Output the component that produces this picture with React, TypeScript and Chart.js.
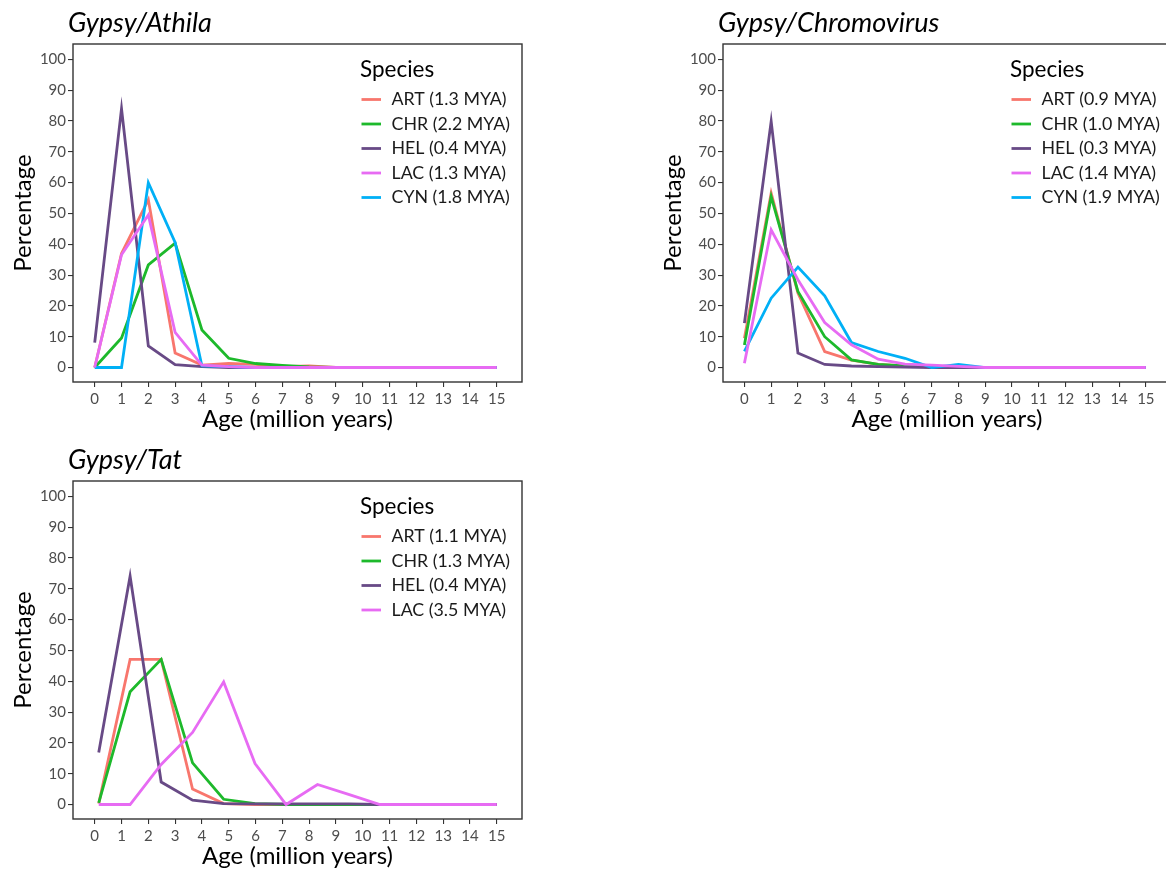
import React, { useEffect, useRef } from 'react';
import { Chart, registerables } from 'chart.js';

Chart.register(...registerables);

// ---------- Data ----------
const AGES = [0, 1, 2, 3, 4, 5, 6, 7, 8, 9, 10, 11, 12, 13, 14, 15];
const TAT_AGES = [0.15, 1.32, 2.48, 3.65, 4.81, 5.98, 7.14, 8.31, 9.47, 10.64, 11.8, 12.97, 14.13, 15];

const SPECIES_COLORS = ['#F8766D', '#1DB92B', '#684A86', '#E76BF3', '#00B0F6'];
// drawing priority (lower = on top)
const SPECIES_Z = [4, 3, 2, 0, 1];

const ATHILA_TITLE = 'Gypsy/Athila';
const ATHILA_LABELS = ['ART (1.3 MYA)', 'CHR (2.2 MYA)', 'HEL (0.4 MYA)', 'LAC (1.3 MYA)', 'CYN (1.8 MYA)'];
const ATHILA_ART = [0, 37, 54.5, 4.7, 0.8, 1.3, 1, 0.3, 0.5, 0, 0, 0, 0, 0, 0, 0];
const ATHILA_CHR = [0, 9.6, 33.3, 40.4, 12.2, 3, 1.3, 0.7, 0.2, 0, 0, 0, 0, 0, 0, 0];
const ATHILA_HEL = [8.1, 84, 7, 0.9, 0.3, 0, 0, 0, 0, 0, 0, 0, 0, 0, 0, 0];
const ATHILA_LAC = [0, 36.6, 49.5, 11.4, 0.8, 0.3, 0, 0, 0, 0, 0, 0, 0, 0, 0, 0];
const ATHILA_CYN = [0, 0, 60, 40.6, 0.5, 0.3, 0, 0, 0, 0, 0, 0, 0, 0, 0, 0];

const CHROMO_TITLE = 'Gypsy/Chromovirus';
const CHROMO_LABELS = ['ART (0.9 MYA)', 'CHR (1.0 MYA)', 'HEL (0.3 MYA)', 'LAC (1.4 MYA)', 'CYN (1.9 MYA)'];
const CHROMO_ART = [9.5, 56.6, 24.2, 5.2, 2.4, 1, 0.5, 0.2, 0, 0, 0, 0, 0, 0, 0, 0];
const CHROMO_CHR = [7.3, 55.5, 24.7, 10, 2.5, 1, 0.5, 0.2, 0, 0, 0, 0, 0, 0, 0, 0];
const CHROMO_HEL = [14.4, 79.9, 4.7, 1, 0.5, 0.3, 0.1, 0, 0, 0, 0, 0, 0, 0, 0, 0];
const CHROMO_LAC = [1.4, 44.7, 28.5, 14.6, 7.4, 2.7, 1.1, 0.8, 0.4, 0, 0, 0, 0, 0, 0, 0];
const CHROMO_CYN = [5.2, 22.5, 32.6, 23.3, 8.1, 5.2, 3, 0, 1, 0, 0, 0, 0, 0, 0, 0];

const TAT_TITLE = 'Gypsy/Tat';
const TAT_LABELS = ['ART (1.1 MYA)', 'CHR (1.3 MYA)', 'HEL (0.4 MYA)', 'LAC (3.5 MYA)'];
const TAT_ART = [0.3, 47.1, 47.1, 5, 0.3, 0, 0, 0, 0, 0, 0, 0, 0, 0];
const TAT_CHR = [0.5, 36.6, 47.1, 13.5, 1.7, 0.3, 0, 0, 0, 0, 0, 0, 0, 0];
const TAT_HEL = [16.9, 74.1, 7.3, 1.4, 0.3, 0.2, 0.2, 0.2, 0.2, 0, 0, 0, 0, 0];
const TAT_LAC = [0, 0, 13, 23.4, 39.8, 13.3, 0, 6.5, 3.3, 0, 0, 0, 0, 0];

const X_AXIS_TITLE = 'Age (million years)';
const Y_AXIS_TITLE = 'Percentage';
const LEGEND_TITLE = 'Species';

const FONT = 'Lato';

type PanelProps = {
  left: number;
  top: number;
  width: number;
  height: number;
  padRight: number;
  title: string;
  labels: string[];
  series: number[][];
  xs: number[];
  xMin: number;
  xMax: number;
};

function Panel(props: PanelProps) {
  const ref = useRef<HTMLCanvasElement | null>(null);

  useEffect(() => {
    const canvas = ref.current;
    if (!canvas) return;
    const { title, labels, series, xs, xMin, xMax, padRight } = props;

    const decor = {
      id: 'panelDecor',
      afterDraw(chart: any) {
        const ctx = chart.ctx;
        const a = chart.chartArea;
        ctx.save();
        // panel border
        ctx.strokeStyle = '#333333';
        ctx.lineWidth = 1.4;
        ctx.strokeRect(a.left, a.top, a.right - a.left, a.bottom - a.top);
        // panel title
        ctx.fillStyle = '#000';
        ctx.font = `italic 27px ${FONT}`;
        ctx.textAlign = 'left';
        ctx.textBaseline = 'alphabetic';
        ctx.fillText(title, a.left - 5, a.top - 12);
        // legend
        const lx = a.left + 287;
        ctx.font = `22.5px ${FONT}`;
        ctx.textBaseline = 'middle';
        ctx.fillText(LEGEND_TITLE, lx, a.top + 26);
        ctx.font = `17.8px ${FONT}`;
        labels.forEach((lab, i) => {
          const y = a.top + 55.5 + i * 24.5;
          ctx.strokeStyle = SPECIES_COLORS[i];
          ctx.lineWidth = 2.8;
          ctx.beginPath();
          ctx.moveTo(a.left + 288.5, y);
          ctx.lineTo(a.left + 308, y);
          ctx.stroke();
          ctx.fillStyle = '#1a1a1a';
          ctx.fillText(lab, a.left + 318.5, y);
        });
        ctx.restore();
      },
    };

    const chart = new Chart(canvas, {
      type: 'line',
      data: {
        datasets: series.map((s, i) => ({
          label: labels[i],
          data: xs.map((x, j) => ({ x, y: s[j] })),
          borderColor: SPECIES_COLORS[i],
          backgroundColor: SPECIES_COLORS[i],
          borderWidth: 2.8,
          pointRadius: 0,
          tension: 0,
          fill: false,
          order: SPECIES_Z[i],
        })),
      },
      options: {
        animation: false,
        responsive: true,
        maintainAspectRatio: false,
        layout: { padding: { left: 0, top: 44, right: padRight, bottom: 0 } },
        plugins: {
          legend: { display: false },
          tooltip: { enabled: false },
          title: { display: false },
        },
        scales: {
          x: {
            type: 'linear',
            min: xMin,
            max: xMax,
            afterFit: (s: any) => {
              s.height = 58;
            },
            ticks: {
              stepSize: 1,
              includeBounds: false,
              autoSkip: false,
              maxRotation: 0,
              maxTicksLimit: 30,
              color: '#4D4D4D',
              font: { family: FONT, size: 15 },
              padding: 3,
            },
            grid: {
              display: true,
              drawOnChartArea: false,
              drawTicks: true,
              tickLength: 5,
              color: '#333333',
              lineWidth: 1.1,
            },
            border: { display: false },
            title: {
              display: true,
              text: X_AXIS_TITLE,
              color: '#000',
              font: { family: FONT, size: 24 },
              padding: { top: 0, bottom: 6 },
            },
          },
          y: {
            type: 'linear',
            min: -4.7,
            max: 105,
            afterFit: (s: any) => {
              s.width = 73;
            },
            ticks: {
              stepSize: 10,
              includeBounds: false,
              color: '#4D4D4D',
              font: { family: FONT, size: 15 },
              padding: 2,
            },
            grid: {
              display: true,
              drawOnChartArea: false,
              drawTicks: true,
              tickLength: 5,
              color: '#333333',
              lineWidth: 1.1,
            },
            border: { display: false },
            title: {
              display: true,
              text: Y_AXIS_TITLE,
              color: '#000',
              font: { family: FONT, size: 24 },
              padding: { top: 9, bottom: 0 },
            },
          },
        },
      },
      plugins: [decor],
    } as any);

    return () => chart.destroy();
  }, []);

  return (
    <div
      style={{
        position: 'absolute',
        left: props.left,
        top: props.top,
        width: props.width,
        height: props.height,
      }}
    >
      <canvas ref={ref} />
    </div>
  );
}

export default function App() {
  return (
    <div
      style={{
        position: 'absolute',
        left: 0,
        top: 0,
        width: 1166,
        height: 870,
        overflow: 'hidden',
        background: '#fff',
      }}
    >
      <Panel
        left={0}
        top={0}
        width={560}
        height={440}
        padRight={38}
        title={ATHILA_TITLE}
        labels={ATHILA_LABELS}
        series={[ATHILA_ART, ATHILA_CHR, ATHILA_HEL, ATHILA_LAC, ATHILA_CYN]}
        xs={AGES}
        xMin={-0.81}
        xMax={15.94}
      />
      <Panel
        left={650}
        top={0}
        width={530}
        height={440}
        padRight={9}
        title={CHROMO_TITLE}
        labels={CHROMO_LABELS}
        series={[CHROMO_ART, CHROMO_CHR, CHROMO_HEL, CHROMO_LAC, CHROMO_CYN]}
        xs={AGES}
        xMin={-0.8}
        xMax={15.94}
      />
      <Panel
        left={0}
        top={437}
        width={560}
        height={440}
        padRight={38}
        title={TAT_TITLE}
        labels={TAT_LABELS}
        series={[TAT_ART, TAT_CHR, TAT_HEL, TAT_LAC]}
        xs={TAT_AGES}
        xMin={-0.81}
        xMax={15.94}
      />
    </div>
  );
}
